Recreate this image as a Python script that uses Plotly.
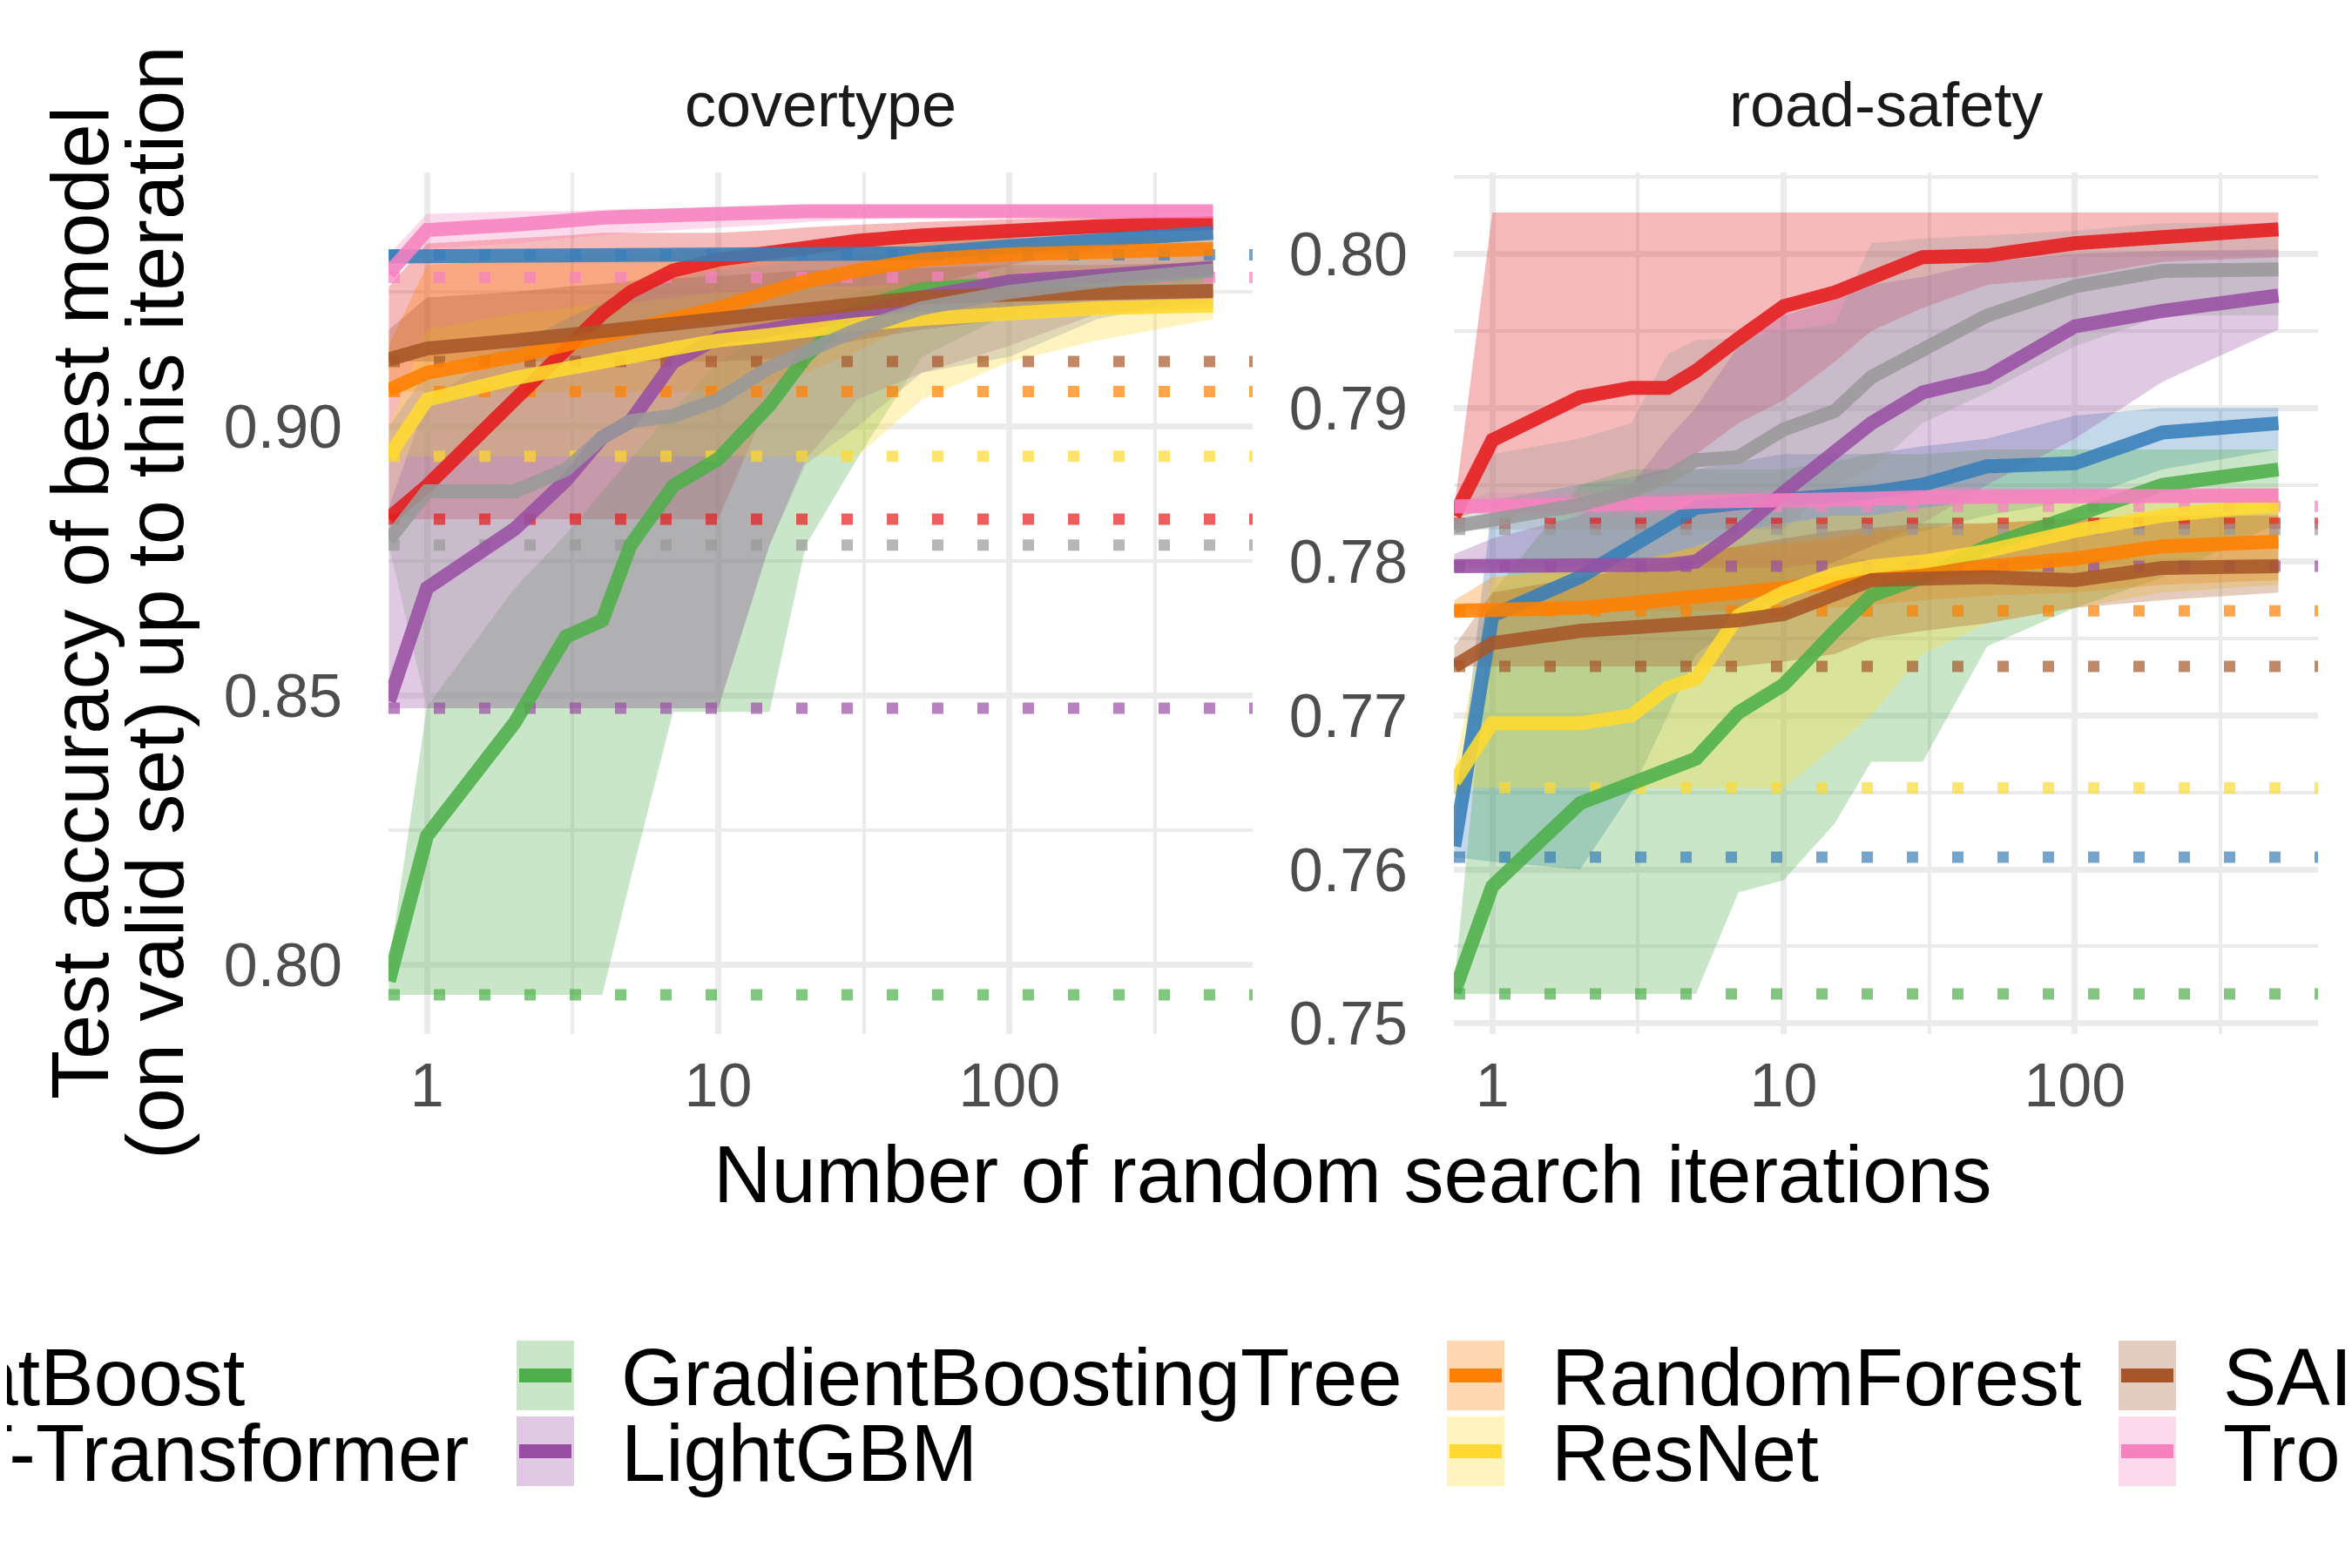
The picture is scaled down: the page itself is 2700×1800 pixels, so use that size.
import plotly.graph_objects as go

W, H = 2700, 1800
FONT = "Liberation Sans, Arial, sans-serif"

models = ["CatBoost", "FT-Transformer", "GradientBoostingTree", "LightGBM",
          "RandomForest", "ResNet", "SAINT", "Trompt", "XGBoost"]
colors = ["#E41A1C", "#377EB8", "#4DAF4A", "#984EA3", "#FF7F00",
          "#FFD92F", "#A65628", "#F781BF", "#999999"]

# random search iterations at which the curves are read
iters = [0.74, 1, 2, 3, 4, 5, 7, 10, 15, 20, 30, 50, 100, 200, 500]

## covertype
cov_med = {
    "CatBoost": [0.883, 0.889, 0.905, 0.914, 0.921, 0.925, 0.929, 0.931, 0.9325, 0.9335, 0.9345, 0.9355, 0.9365, 0.9372, 0.9378],
    "FT-Transformer": [0.9316, 0.9316, 0.9316, 0.9316, 0.9316, 0.9316, 0.9316, 0.9316, 0.9316, 0.9316, 0.9318, 0.9322, 0.9335, 0.9345, 0.936],
    "GradientBoostingTree": [0.797, 0.824, 0.845, 0.861, 0.864, 0.878, 0.889, 0.894, 0.904, 0.913, 0.922, 0.9255, 0.9265, 0.9275, 0.9292],
    "LightGBM": [0.849, 0.870, 0.881, 0.890, 0.898, 0.901, 0.912, 0.9165, 0.918, 0.919, 0.921, 0.924, 0.927, 0.928, 0.9295],
    "RandomForest": [0.9068, 0.910, 0.913, 0.9155, 0.917, 0.918, 0.920, 0.922, 0.925, 0.927, 0.929, 0.931, 0.932, 0.9325, 0.933],
    "ResNet": [0.8945, 0.905, 0.909, 0.911, 0.912, 0.913, 0.9145, 0.916, 0.917, 0.918, 0.919, 0.920, 0.921, 0.922, 0.9225],
    "SAINT": [0.9125, 0.9145, 0.916, 0.917, 0.918, 0.9185, 0.919, 0.9205, 0.921, 0.922, 0.923, 0.924, 0.9245, 0.925, 0.9252],
    "Trompt": [0.9285, 0.9365, 0.9375, 0.9385, 0.9388, 0.939, 0.9393, 0.9397, 0.9399, 0.940, 0.940, 0.940, 0.940, 0.940, 0.940],
    "XGBoost": [0.879, 0.888, 0.888, 0.892, 0.898, 0.901, 0.902, 0.905, 0.911, 0.914, 0.918, 0.922, 0.925, 0.927, 0.929],
}
cov_lo = {
    "CatBoost": [0.8828, 0.8828, 0.8828, 0.8828, 0.8828, 0.8828, 0.8828, 0.8828, 0.905, 0.913, 0.920, 0.926, 0.930, 0.933, 0.935],
    "FT-Transformer": [0.9316, 0.9316, 0.9316, 0.9316, 0.9316, 0.9316, 0.9316, 0.9316, 0.9316, 0.9316, 0.9316, 0.9316, 0.9318, 0.932, 0.9335],
    "GradientBoostingTree": [0.7945, 0.7945, 0.7945, 0.7945, 0.7945, 0.816, 0.847, 0.847, 0.847, 0.878, 0.894, 0.913, 0.921, 0.924, 0.927],
    "LightGBM": [0.8477, 0.8477, 0.8477, 0.8477, 0.8477, 0.8477, 0.8477, 0.8477, 0.878, 0.894, 0.905, 0.910, 0.915, 0.921, 0.923],
    "RandomForest": [0.9065, 0.9065, 0.9065, 0.9065, 0.9065, 0.9065, 0.9065, 0.9065, 0.908, 0.910, 0.914, 0.920, 0.925, 0.928, 0.930],
    "ResNet": [0.8945, 0.8945, 0.8945, 0.8945, 0.8945, 0.8945, 0.8945, 0.8945, 0.8945, 0.8945, 0.8945, 0.905, 0.912, 0.916, 0.920],
    "SAINT": [0.9121, 0.9121, 0.9121, 0.9121, 0.9121, 0.9121, 0.9121, 0.9121, 0.9125, 0.914, 0.916, 0.918, 0.920, 0.921, 0.922],
    "Trompt": [0.9277, 0.933, 0.934, 0.935, 0.9355, 0.936, 0.9365, 0.937, 0.9375, 0.938, 0.9385, 0.939, 0.939, 0.9392, 0.9395],
    "XGBoost": [0.878, 0.8477, 0.8477, 0.8477, 0.8477, 0.8477, 0.8477, 0.8477, 0.878, 0.893, 0.900, 0.910, 0.913, 0.920, 0.924],
}
cov_hi = {
    "CatBoost": [0.926, 0.934, 0.935, 0.9355, 0.936, 0.936, 0.936, 0.936, 0.9365, 0.937, 0.9375, 0.938, 0.9385, 0.939, 0.939],
    "FT-Transformer": [0.9318, 0.9318, 0.9318, 0.9318, 0.9318, 0.9318, 0.9318, 0.9318, 0.932, 0.9325, 0.933, 0.934, 0.9355, 0.9365, 0.937],
    "GradientBoostingTree": [0.800, 0.848, 0.870, 0.880, 0.888, 0.894, 0.903, 0.912, 0.918, 0.922, 0.925, 0.927, 0.928, 0.929, 0.931],
    "LightGBM": [0.885, 0.905, 0.915, 0.920, 0.923, 0.925, 0.928, 0.930, 0.931, 0.931, 0.932, 0.932, 0.933, 0.933, 0.934],
    "RandomForest": [0.915, 0.930, 0.931, 0.9315, 0.932, 0.932, 0.9325, 0.933, 0.9335, 0.934, 0.934, 0.9345, 0.935, 0.935, 0.9355],
    "ResNet": [0.900, 0.918, 0.921, 0.922, 0.923, 0.923, 0.924, 0.925, 0.925, 0.926, 0.926, 0.9265, 0.927, 0.927, 0.9275],
    "SAINT": [0.918, 0.924, 0.925, 0.926, 0.9265, 0.927, 0.9275, 0.928, 0.9285, 0.929, 0.929, 0.9295, 0.930, 0.930, 0.9305],
    "Trompt": [0.932, 0.9395, 0.940, 0.940, 0.9403, 0.9405, 0.9405, 0.9407, 0.9408, 0.9408, 0.9408, 0.9408, 0.9408, 0.9408, 0.9408],
    "XGBoost": [0.900, 0.910, 0.915, 0.920, 0.923, 0.925, 0.927, 0.929, 0.930, 0.931, 0.9315, 0.932, 0.933, 0.9335, 0.934],
}
cov_default = [0.8828, 0.9319, 0.7945, 0.8477, 0.9065, 0.8945, 0.9121, 0.9277, 0.878]

## road-safety
rs_med = {
    "CatBoost": [0.7830, 0.7879, 0.7907, 0.7913, 0.7913, 0.7924, 0.7945, 0.7966, 0.7975, 0.7985, 0.7998, 0.7999, 0.8007, 0.8011, 0.8016],
    "FT-Transformer": [0.7615, 0.7765, 0.779, 0.781, 0.7825, 0.7835, 0.7838, 0.784, 0.7843, 0.7845, 0.785, 0.7862, 0.7864, 0.7884, 0.789],
    "GradientBoostingTree": [0.752, 0.7589, 0.7643, 0.7655, 0.7664, 0.7672, 0.7702, 0.772, 0.7755, 0.7778, 0.779, 0.781, 0.783, 0.785, 0.786],
    "LightGBM": [0.7797, 0.7797, 0.7797, 0.7797, 0.7798, 0.780, 0.782, 0.7845, 0.7872, 0.789, 0.791, 0.792, 0.7953, 0.7963, 0.7973],
    "RandomForest": [0.7768, 0.7768, 0.777, 0.7773, 0.7775, 0.7777, 0.778, 0.7783, 0.7787, 0.779, 0.7793, 0.7797, 0.7802, 0.781, 0.7813],
    "ResNet": [0.7657, 0.7695, 0.7695, 0.770, 0.7718, 0.7724, 0.7765, 0.778, 0.7792, 0.7797, 0.780, 0.7807, 0.782, 0.783, 0.7837],
    "SAINT": [0.7732, 0.7747, 0.7755, 0.7757, 0.7759, 0.776, 0.7762, 0.7766, 0.778, 0.7788, 0.7789, 0.779, 0.7788, 0.7796, 0.7797],
    "Trompt": [0.7836, 0.7836, 0.7837, 0.7838, 0.7838, 0.7839, 0.784, 0.784, 0.7841, 0.7841, 0.7842, 0.7842, 0.7843, 0.7843, 0.7843],
    "XGBoost": [0.7823, 0.7827, 0.7837, 0.7846, 0.7855, 0.7866, 0.7868, 0.7886, 0.7898, 0.792, 0.7938, 0.796, 0.7979, 0.7989, 0.799],
}
rs_lo = {
    "CatBoost": [0.7828, 0.7835, 0.7838, 0.784, 0.7855, 0.787, 0.789, 0.7905, 0.793, 0.795, 0.7965, 0.798, 0.7985, 0.7995, 0.7998],
    "FT-Transformer": [0.7608, 0.7605, 0.760, 0.765, 0.770, 0.774, 0.776, 0.778, 0.780, 0.781, 0.782, 0.783, 0.784, 0.786, 0.7873],
    "GradientBoostingTree": [0.7519, 0.7519, 0.7519, 0.7519, 0.7519, 0.7519, 0.7585, 0.7593, 0.763, 0.767, 0.767, 0.7745, 0.777, 0.779, 0.7825],
    "LightGBM": [0.7796, 0.7796, 0.7796, 0.7796, 0.7796, 0.7796, 0.7796, 0.7796, 0.780, 0.781, 0.7825, 0.785, 0.788, 0.7917, 0.7951],
    "RandomForest": [0.7768, 0.7768, 0.7768, 0.7768, 0.7768, 0.7768, 0.7768, 0.7768, 0.777, 0.7772, 0.7775, 0.7778, 0.778, 0.7785, 0.7788],
    "ResNet": [0.7653, 0.7653, 0.7653, 0.7653, 0.7653, 0.7653, 0.7653, 0.7653, 0.768, 0.770, 0.774, 0.776, 0.777, 0.778, 0.7785],
    "SAINT": [0.7732, 0.7732, 0.7732, 0.7732, 0.7732, 0.7732, 0.7732, 0.7735, 0.774, 0.775, 0.7755, 0.776, 0.777, 0.7775, 0.778],
    "Trompt": [0.7833, 0.783, 0.783, 0.783, 0.783, 0.783, 0.7832, 0.7833, 0.7835, 0.7836, 0.7837, 0.7838, 0.7839, 0.784, 0.784],
    "XGBoost": [0.7821, 0.7821, 0.7821, 0.7821, 0.7821, 0.7821, 0.7821, 0.7821, 0.785, 0.786, 0.789, 0.791, 0.794, 0.796, 0.796],
}
rs_hi = {
    "CatBoost": [0.7835, 0.8027, 0.8027, 0.8027, 0.8027, 0.8027, 0.8027, 0.8027, 0.8027, 0.8027, 0.8027, 0.8027, 0.8027, 0.8027, 0.8027],
    "FT-Transformer": [0.7625, 0.784, 0.785, 0.7855, 0.786, 0.786, 0.7865, 0.787, 0.787, 0.787, 0.7875, 0.788, 0.7895, 0.790, 0.790],
    "GradientBoostingTree": [0.7525, 0.778, 0.785, 0.786, 0.786, 0.786, 0.786, 0.786, 0.7865, 0.787, 0.787, 0.7873, 0.7873, 0.7873, 0.7873],
    "LightGBM": [0.7805, 0.7815, 0.783, 0.785, 0.788, 0.790, 0.794, 0.796, 0.797, 0.798, 0.7985, 0.7995, 0.800, 0.8002, 0.8003],
    "RandomForest": [0.7775, 0.779, 0.7795, 0.780, 0.7805, 0.781, 0.781, 0.7812, 0.7815, 0.782, 0.7822, 0.7825, 0.7828, 0.783, 0.7832],
    "ResNet": [0.7665, 0.779, 0.7795, 0.780, 0.7805, 0.781, 0.782, 0.7825, 0.783, 0.783, 0.7835, 0.784, 0.7843, 0.7845, 0.7848],
    "SAINT": [0.7745, 0.778, 0.779, 0.7795, 0.780, 0.7805, 0.781, 0.7815, 0.782, 0.7822, 0.7825, 0.7825, 0.7828, 0.783, 0.783],
    "Trompt": [0.7838, 0.7845, 0.7845, 0.7845, 0.7846, 0.7846, 0.7846, 0.7847, 0.7847, 0.7847, 0.7848, 0.7848, 0.7848, 0.7848, 0.7848],
    "XGBoost": [0.7825, 0.787, 0.788, 0.789, 0.7935, 0.7944, 0.7945, 0.795, 0.7955, 0.8007, 0.801, 0.8012, 0.8015, 0.802, 0.802],
}
rs_default = [0.7825, 0.7608, 0.7519, 0.7797, 0.7768, 0.7653, 0.7732, 0.7836, 0.7821]

datasets = ["covertype", "road-safety"]
x_range_log = [-0.132, 2.835]


def rgba(hex_color, a):
    h = hex_color.lstrip("#")
    r, g, b = int(h[0:2], 16), int(h[2:4], 16), int(h[4:6], 16)
    return f"rgba({r},{g},{b},{a})"


def px_x(p):
    return p / W


def px_y(p):
    return 1 - p / H


fig = go.Figure()
fig.update_layout(template="none")

panels = [
    ("x", "y", cov_med, cov_lo, cov_hi, cov_default),
    ("x2", "y2", rs_med, rs_lo, rs_hi, rs_default),
]
x_ends = [10 ** x_range_log[0], 10 ** x_range_log[1]]

for xa, ya, med, lo, hi, dflt in panels:
    # ribbons
    for m, c in zip(models, colors):
        fig.add_trace(go.Scatter(
            x=iters + iters[::-1],
            y=hi[m] + lo[m][::-1],
            fill="toself",
            fillcolor=rgba(c, 0.3),
            line=dict(width=0, color="rgba(0,0,0,0)"),
            mode="lines",
            xaxis=xa, yaxis=ya,
            showlegend=False, hoverinfo="skip",
        ))
    # default hyperparameters (dotted)
    for m, c, d in zip(models, colors, dflt):
        fig.add_trace(go.Scatter(
            x=x_ends, y=[d, d],
            mode="lines",
            line=dict(color=rgba(c, 0.7), width=13, dash="13px,39px"),
            xaxis=xa, yaxis=ya,
            showlegend=False, hoverinfo="skip",
        ))
    # median best-so-far
    for m, c in zip(models, colors):
        fig.add_trace(go.Scatter(
            x=iters, y=med[m],
            mode="lines",
            line=dict(color=rgba(c, 0.88), width=16),
            xaxis=xa, yaxis=ya,
            name=m, showlegend=False,
        ))

grid = "#EBEBEB"
tickfont = dict(family=FONT, size=70, color="#4D4D4D")
xcommon = dict(
    type="log", range=x_range_log,
    tickvals=[1, 10, 100], ticktext=["1", "10", "100"],
    showgrid=True, gridcolor=grid, gridwidth=7,
    minor=dict(tickvals=[10 ** 0.5, 10 ** 1.5, 10 ** 2.5], showgrid=True,
               gridcolor=grid, gridwidth=4),
    zeroline=False, showline=False, ticks="",
    tickfont=tickfont, ticklabelstandoff=12,
)
ycommon = dict(
    showgrid=True, gridcolor=grid, gridwidth=7,
    zeroline=False, showline=False, ticks="",
    tickformat=".2f", tickfont=tickfont, ticklabelstandoff=52,
)
fig.update_layout(
    width=W, height=H,
    margin=dict(l=0, r=0, t=0, b=0, autoexpand=False),
    paper_bgcolor="white", plot_bgcolor="white",
    font=dict(family=FONT, color="black"),
    xaxis=dict(domain=[px_x(438), px_x(1430)], anchor="y", **xcommon),
    xaxis2=dict(domain=[px_x(1661), px_x(2653)], anchor="y2", **xcommon),
    yaxis=dict(domain=[px_y(1179), px_y(190)], anchor="x", range=[0.7872, 0.9472],
               tickvals=[0.80, 0.85, 0.90],
               minor=dict(tickvals=[0.825, 0.875, 0.925], showgrid=True, gridcolor=grid, gridwidth=4),
               **ycommon),
    yaxis2=dict(domain=[px_y(1179), px_y(190)], anchor="x2", range=[0.7493, 0.8053],
                tickvals=[0.75, 0.76, 0.77, 0.78, 0.79, 0.80],
                minor=dict(tickvals=[0.755, 0.765, 0.775, 0.785, 0.795, 0.805], showgrid=True,
                           gridcolor=grid, gridwidth=4),
                **ycommon),
)

annotations = []
# facet strips
for name, cx in zip(datasets, [934, 2157]):
    annotations.append(dict(text=name, x=px_x(cx), y=px_y(112), xref="paper", yref="paper",
                            showarrow=False, xanchor="center", yanchor="middle",
                            font=dict(family=FONT, size=72, color="#1A1A1A")))
# axis titles
annotations.append(dict(text="Number of random search iterations", x=px_x(1545), y=px_y(1340),
                        xref="paper", yref="paper", showarrow=False, xanchor="center", yanchor="middle",
                        font=dict(family=FONT, size=92, color="black")))
for line, cx in zip(["Test accuracy of best model", "(on valid set) up to this iteration"], [84, 170]):
    annotations.append(dict(text=line, x=px_x(cx), y=px_y(684), xref="paper", yref="paper",
                            showarrow=False, textangle=-90, xanchor="center", yanchor="middle",
                            font=dict(family=FONT, size=92, color="black")))

# legend (two rows, filled by column, wider than the figure)
shapes = []
key_left = [-225, 585, 1653, 2424, 2881]
row_top = [1531, 1618]
key_w, key_h = 66, 80
for i, (m, c) in enumerate(zip(models, colors)):
    col, row = divmod(i, 2)
    x0 = key_left[col]
    y0 = row_top[row]
    shapes.append(dict(type="rect", xref="paper", yref="paper",
                       x0=px_x(x0), x1=px_x(x0 + key_w), y0=px_y(y0 + key_h), y1=px_y(y0),
                       fillcolor=rgba(c, 0.3), line=dict(width=0)))
    ym = y0 + key_h / 2
    shapes.append(dict(type="rect", xref="paper", yref="paper",
                       x0=px_x(x0 + 3), x1=px_x(x0 + key_w - 3), y0=px_y(ym + 8), y1=px_y(ym - 8),
                       fillcolor=c, line=dict(width=0)))
    annotations.append(dict(text=m, x=px_x(x0 + key_w + 52), y=px_y(ym + 2), xref="paper", yref="paper",
                            showarrow=False, xanchor="left", yanchor="middle",
                            font=dict(family=FONT, size=92, color="black")))

fig.update_layout(annotations=annotations, shapes=shapes)

fig.write_html("out.html")
